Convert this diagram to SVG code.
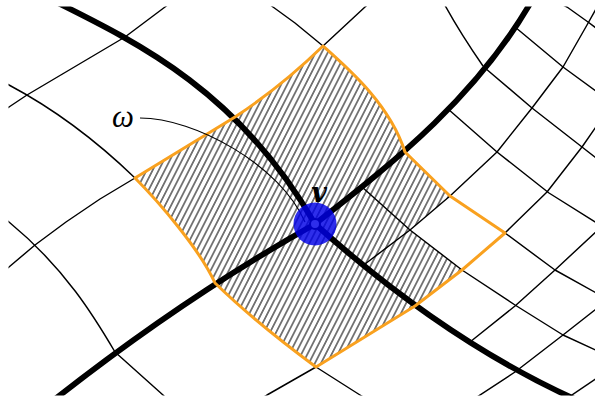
<svg xmlns="http://www.w3.org/2000/svg" width="595" height="399" viewBox="0 0 595 399">
<defs>
<style>
.g{fill:none;stroke:#000;stroke-width:1.45;stroke-linejoin:round}
.thick{fill:none;stroke:#000;stroke-width:5.8}
.or{fill:none;stroke:#f9a11f;stroke-width:3;stroke-linejoin:round}
.lbl{font-family:"Liberation Serif","DejaVu Serif",serif;fill:#000}
</style>
<clipPath id="clip"><rect x="8.5" y="6.5" width="590" height="389"/></clipPath>
<pattern id="hatch" patternUnits="userSpaceOnUse" width="5.4" height="10" patternTransform="rotate(27)">
<line x1="2.7" y1="-1" x2="2.7" y2="11" stroke="#000" stroke-width="1"/>
</pattern>
</defs>
<rect width="595" height="399" fill="#fff"/>
<g clip-path="url(#clip)">
<path id="omega-region" d="M323,46 C350,70 390,105 405,152 L450,196 L410,230 L462,270 L415,306 L316,367 Q255,322 215,283 C200,250 160,203 135,178 L235,117 Q282,86 323,46 Z" fill="url(#hatch)"/>
<g id="grid" class="g">
<path d="M175,-1 L165,7 L125,37 L27,95 L9,107 L0,112"/>
<path d="M135,178 L100,199 L66,222 L35,245 L9,267 L0,274"/>
<path d="M323,46 L365,7 L373,0"/>
<path d="M135,178 Q75,120 9,85 L0,80"/>
<path d="M115,352 C95,318 65,268 9,222 L0,215"/>
<path d="M115,352 L163,395 L168,400"/>
<path d="M323,46 L295,23 L273,7 L264,0"/>
<path d="M483,66 Q458,30 441,-2"/>
<path d="M316,367 L360,395 L368,400"/>
<path d="M316,367 L267,395 L259,400"/>
<path d="M515,372 L477,397 L472,400"/>
<path d="M362,187 L410,230 L462,270 L515,305 L563,335 L602,353"/>
<path d="M505,233 L555,270 L600,295"/>
<path d="M448,109 L497,152 L549,193 L600,225"/>
<path d="M485,68 L532,108 L582,147 L600,161"/>
<path d="M515,27 L563,67 L600,94"/>
<path d="M545,-4 L567,7 L588,22 L600,31"/>
<path d="M365,264 L410,230 L450,196 L497,152 L532,108 L563,67 L587,25 L600,2"/>
<path d="M505,233 L547,192 L582,147 L600,121"/>
<path d="M470,342 L515,306 L555,270 L600,228"/>
<path d="M515,372 L563,335 L600,306"/>
<path d="M566,399 L600,376"/>
</g>
<g id="thick-curves" class="thick">
<path d="M40,-6 C130,39 236,86 315,224"/>
<path d="M315,224 C410,309 505,371 600,410"/>
<path d="M315,224 C395,161.6 480,94 535,-5"/>
<path d="M315,224 C225,274.5 135,335.5 45,407"/>
</g>
<path id="omega-border" class="or" d="M323,46 C350,70 390,105 405,152 L450,196 L505,233 L462,270 L415,306 L316,367 Q255,322 215,283 C200,250 160,203 135,178 L235,117 Q282,86 323,46 Z"/>
</g>
<g id="omega-label">
<path d="M140,118 C195,118 280,165 305,222" fill="none" stroke="#000" stroke-width="1.1"/>
<text class="lbl" x="123" y="127" font-size="31" font-style="italic" text-anchor="middle">ω</text>
</g>
<g id="vertex-v">
<circle cx="315" cy="224" r="5" fill="#fff" stroke="#000" stroke-width="2"/>
<circle cx="315" cy="224" r="21.5" fill="#0000e6" fill-opacity="0.82"/>
<text x="319" y="202" font-family="DejaVu Serif, serif" font-weight="bold" font-style="italic" font-size="27" text-anchor="middle">v</text>
</g>
</svg>
